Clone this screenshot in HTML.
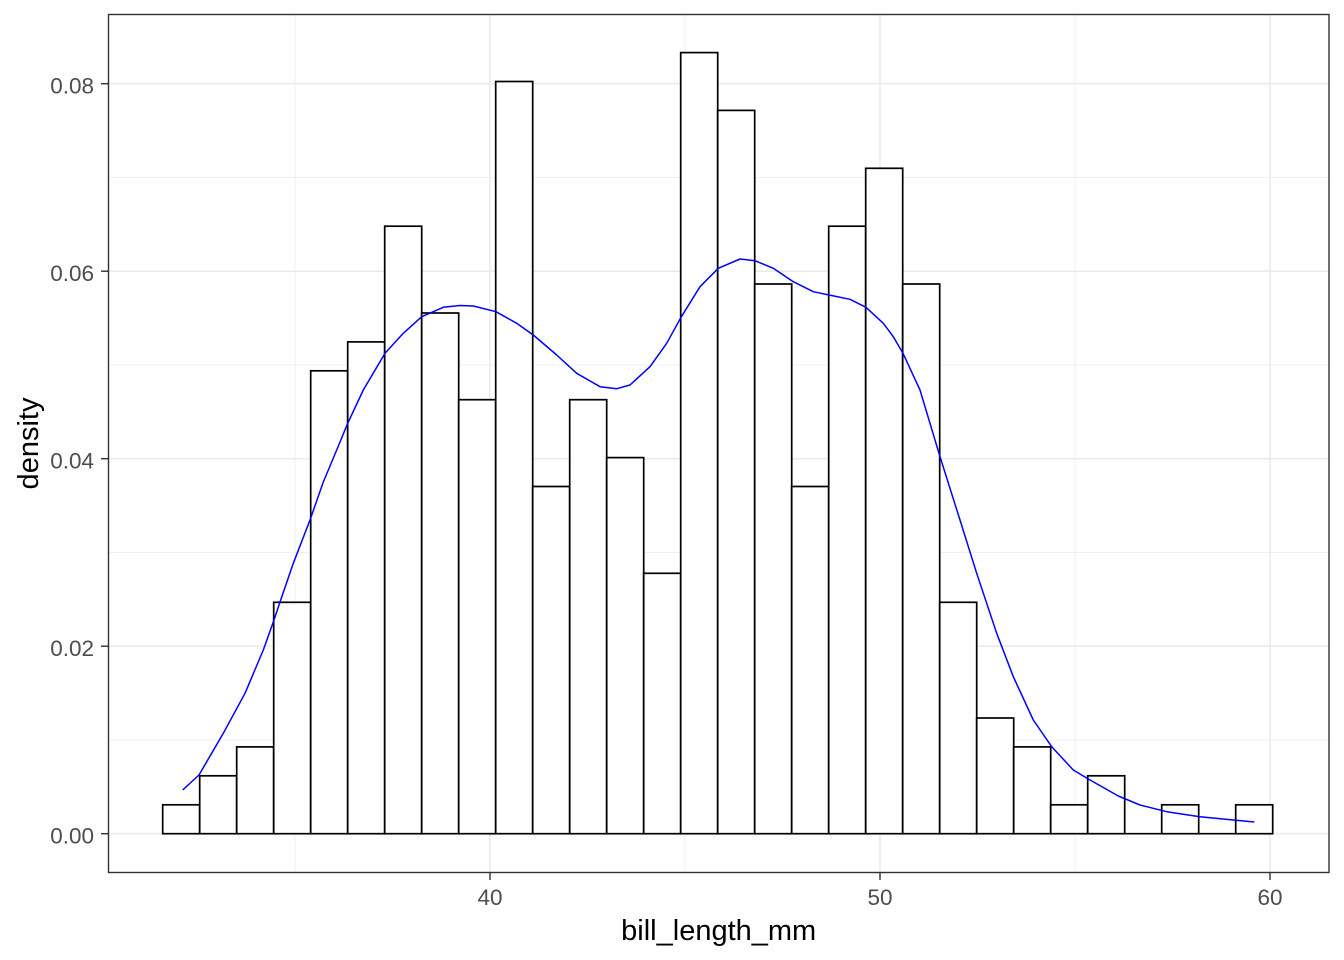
<!DOCTYPE html>
<html>
<head>
<meta charset="utf-8">
<style>
html,body{margin:0;padding:0;background:#fff;}
svg{display:block;}
text{font-family:"Liberation Sans",Arial,sans-serif;}
</style>
</head>
<body>
<svg width="1344" height="960" viewBox="0 0 1344 960" xmlns="http://www.w3.org/2000/svg">
<rect x="0" y="0" width="1344" height="960" fill="#fff"/>
<!-- minor grid -->
<g stroke="#EBEBEB" stroke-width="0.8" fill="none">
<line x1="108.5" x2="1329" y1="740" y2="740"/>
<line x1="108.5" x2="1329" y1="552.5" y2="552.5"/>
<line x1="108.5" x2="1329" y1="365" y2="365"/>
<line x1="108.5" x2="1329" y1="177.5" y2="177.5"/>
<line y1="14.5" y2="872.5" x1="295" x2="295"/>
<line y1="14.5" y2="872.5" x1="685" x2="685"/>
<line y1="14.5" y2="872.5" x1="1075" x2="1075"/>
</g>
<!-- major grid -->
<g stroke="#EBEBEB" stroke-width="1.6" fill="none">
<line x1="108.5" x2="1329" y1="833.7" y2="833.7"/>
<line x1="108.5" x2="1329" y1="646.2" y2="646.2"/>
<line x1="108.5" x2="1329" y1="458.7" y2="458.7"/>
<line x1="108.5" x2="1329" y1="271.2" y2="271.2"/>
<line x1="108.5" x2="1329" y1="83.7" y2="83.7"/>
<line y1="14.5" y2="872.5" x1="490" x2="490"/>
<line y1="14.5" y2="872.5" x1="880" x2="880"/>
<line y1="14.5" y2="872.5" x1="1270" x2="1270"/>
</g>
<!-- bars -->
<g stroke="#000" stroke-width="1.7" fill="#fff">
<rect x="162.7" y="804.8" width="37" height="28.9"/>
<rect x="199.7" y="775.8" width="37" height="57.9"/>
<rect x="236.7" y="746.9" width="37" height="86.8"/>
<rect x="273.7" y="602.3" width="37" height="231.4"/>
<rect x="310.7" y="370.8" width="37" height="462.9"/>
<rect x="347.7" y="341.9" width="37" height="491.8"/>
<rect x="384.7" y="226.2" width="37" height="607.5"/>
<rect x="421.7" y="313.0" width="37" height="520.7"/>
<rect x="458.7" y="399.7" width="37" height="434.0"/>
<rect x="495.7" y="81.5" width="37" height="752.2"/>
<rect x="532.7" y="486.5" width="37" height="347.2"/>
<rect x="569.7" y="399.7" width="37" height="434.0"/>
<rect x="606.7" y="457.6" width="37" height="376.1"/>
<rect x="643.7" y="573.3" width="37" height="260.4"/>
<rect x="680.7" y="52.6" width="37" height="781.1"/>
<rect x="717.7" y="110.4" width="37" height="723.3"/>
<rect x="754.7" y="284.0" width="37" height="549.7"/>
<rect x="791.7" y="486.5" width="37" height="347.2"/>
<rect x="828.7" y="226.2" width="37" height="607.5"/>
<rect x="865.7" y="168.3" width="37" height="665.4"/>
<rect x="902.7" y="284.0" width="37" height="549.7"/>
<rect x="939.7" y="602.3" width="37" height="231.4"/>
<rect x="976.7" y="718.0" width="37" height="115.7"/>
<rect x="1013.7" y="746.9" width="37" height="86.8"/>
<rect x="1050.7" y="804.8" width="37" height="28.9"/>
<rect x="1087.7" y="775.8" width="37" height="57.9"/>
<line x1="1124.7" x2="1161.7" y1="833.7" y2="833.7"/>
<rect x="1161.7" y="804.8" width="37" height="28.9"/>
<line x1="1198.7" x2="1235.7" y1="833.7" y2="833.7"/>
<rect x="1235.7" y="804.8" width="37" height="28.9"/>
</g>
<!-- density curve -->
<polyline fill="none" stroke="#0000FF" stroke-width="1.5" stroke-linejoin="round" points="182.7,790 199,775 223.3,733.3 245,693.3 263.3,650 274,620 280,602 293.3,563.3 310,520 323.3,482 336.7,450 347.7,423.3 363.3,390 385,353.3 403.3,333.3 421.7,316.7 443.3,307.3 460,305.5 473.3,306 496,311.7 516.7,323.3 533.3,335 556.7,355 576.7,373.3 600,386.7 616.7,388.7 630,385 650,366.7 666.7,343.3 681,317.3 700,286.7 718.3,268.3 740,259 755,260.7 773.3,268.3 793.3,281.7 813.3,291.7 829,295 850,299.3 866,307.3 883.3,323.3 893.3,336.7 903,353.3 920,390 940,456.7 960,520 976.7,573.3 996.7,633.3 1013.3,676.7 1033.3,720 1051.7,746.7 1073.3,770 1088.3,779 1118.3,796 1140,805 1166.7,811.7 1200,816.7 1233.3,820 1254.3,822"/>
<!-- panel border -->
<rect x="108.5" y="14.5" width="1220.5" height="858" fill="none" stroke="#333333" stroke-width="1.4"/>
<!-- ticks -->
<g stroke="#333333" stroke-width="1.4">
<line x1="101" x2="108.5" y1="833.7" y2="833.7"/>
<line x1="101" x2="108.5" y1="646.2" y2="646.2"/>
<line x1="101" x2="108.5" y1="458.7" y2="458.7"/>
<line x1="101" x2="108.5" y1="271.2" y2="271.2"/>
<line x1="101" x2="108.5" y1="83.7" y2="83.7"/>
<line x1="490" x2="490" y1="872.5" y2="880"/>
<line x1="880" x2="880" y1="872.5" y2="880"/>
<line x1="1270" x2="1270" y1="872.5" y2="880"/>
</g>
<!-- tick labels -->
<g fill="#4D4D4D" font-size="22.5" text-anchor="end">
<text x="94" y="843.7">0.00</text>
<text x="94" y="656.2">0.02</text>
<text x="94" y="468.7">0.04</text>
<text x="94" y="281.2">0.06</text>
<text x="94" y="93.7">0.08</text>
</g>
<g fill="#4D4D4D" font-size="22.5" text-anchor="middle">
<text x="490" y="905">40</text>
<text x="880" y="905">50</text>
<text x="1270" y="905">60</text>
</g>
<!-- axis titles -->
<text x="718.7" y="940" font-size="29" text-anchor="middle" fill="#000">bill_length_mm</text>
<text transform="translate(38,443.5) rotate(-90)" font-size="29" text-anchor="middle" fill="#000">density</text>
</svg>
</body>
</html>
